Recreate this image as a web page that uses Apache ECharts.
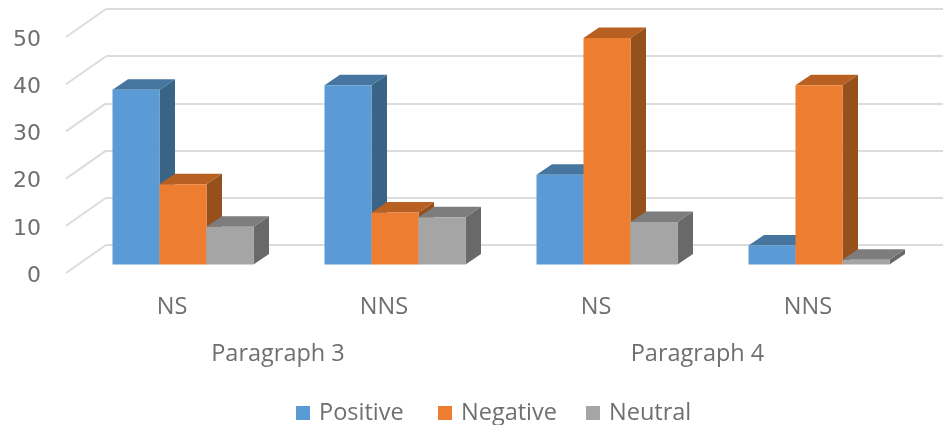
<!DOCTYPE html>
<html>
<head>
<meta charset="utf-8">
<style>html,body{margin:0;padding:0;background:#fff}#chart{width:943px;height:425px}</style>
<script src="https://cdn.jsdelivr.net/npm/echarts@6/dist/echarts.min.js"></script>
</head>
<body>
<div id="chart"></div>
<script>
const subCategories = ['NS', 'NNS', 'NS', 'NNS'];
const paragraphs = ['Paragraph 3', 'Paragraph 4'];
const yTicks = [0, 10, 20, 30, 40, 50];
const positive = [37, 38, 19, 4];
const negative = [17, 11, 48, 38];
const neutral = [8, 10, 9, 1];
const legendNames = ['Positive', 'Negative', 'Neutral'];
const legendLefts = [291, 433, 581];

const FONT = '"Open Sans", sans-serif';
const TEXT = '#6f6f6f';
const GRID_LINE = '#dcdcdc';

// Three parallel planes of the 3D box: front edge, bar fronts, back wall.
const PLANE_LEFT = 66, PLANE_WIDTH = 848, PLANE_HEIGHT = 236;
const FRONT_TOP = 37;
const plane = (dx, dy) => ({
  left: PLANE_LEFT + dx, top: FRONT_TOP + dy,
  width: PLANE_WIDTH, height: PLANE_HEIGHT
});

const BAR_W = 47, DEPTH_X = 15.5, DEPTH_Y = -10.5;
const WALL_X = 40, WALL_Y = -28;

const box3d = (offset, faces) => (params, api) => {
  const val = api.value(1);
  const [cx, top] = api.coord([api.value(0), val]);
  const [, base] = api.coord([api.value(0), 0]);
  const l = cx + offset * BAR_W - BAR_W / 2, r = l + BAR_W;
  const poly = (points, fill) => ({ type: 'polygon', shape: { points }, style: { fill } });
  return {
    type: 'group',
    children: [
      poly([[r, top], [r + DEPTH_X, top + DEPTH_Y], [r + DEPTH_X, base + DEPTH_Y], [r, base]], faces.side),
      poly([[l, top], [l + DEPTH_X, top + DEPTH_Y], [r + DEPTH_X, top + DEPTH_Y], [r, top]], faces.top),
      { type: 'rect', shape: { x: l, y: top, width: BAR_W, height: base - top }, style: { fill: faces.front } }
    ]
  };
};

const barSeries = (name, values, offset, faces) => ({
  name,
  type: 'custom',
  xAxisIndex: 2,
  yAxisIndex: 1,
  z: 3,
  itemStyle: { color: faces.front },
  encode: { x: 0, y: 1 },
  data: values.map((v, i) => [i, v]),
  renderItem: box3d(offset, faces)
});

// Floor-to-wall slanted gridline segments on the left side.
const slantSeries = {
  type: 'custom',
  xAxisIndex: 0,
  yAxisIndex: 0,
  z: 1,
  silent: true,
  encode: { y: 0 },
  data: yTicks.map(t => [t]),
  renderItem: (params, api) => {
    const x = params.coordSys.x;
    const y = api.coord([0, api.value(0)])[1];
    return {
      type: 'line',
      shape: { x1: x, y1: y, x2: x + WALL_X, y2: y + WALL_Y },
      style: { stroke: GRID_LINE, lineWidth: 2 }
    };
  }
};

const hiddenCat = gridIndex => ({ type: 'category', gridIndex, data: subCategories, show: false });
const valueAxis = (gridIndex, extra) => Object.assign({
  type: 'value', gridIndex, min: 0, max: 50, interval: 10,
  axisLine: { show: false }, axisTick: { show: false },
  axisLabel: { show: false }, splitLine: { show: false }
}, extra);

const chart = echarts.init(document.getElementById('chart'), null, { renderer: 'canvas' });
chart.setOption({
  backgroundColor: '#fff',
  animation: false,
  textStyle: { fontFamily: FONT },
  grid: [plane(0, 0), plane(11, -8.5), plane(WALL_X, WALL_Y), plane(0, 3)],
  xAxis: [
    {
      type: 'category', gridIndex: 0, data: subCategories, position: 'bottom',
      axisLine: { show: false }, axisTick: { show: false },
      axisLabel: { color: TEXT, fontSize: 23.5, fontFamily: FONT, margin: 22, interval: 0 }
    },
    {
      type: 'category', gridIndex: 0, position: 'bottom',
      // The right-hand group label sits a little left of its band's centre.
      data: paragraphs.map((value, i) => i === 1 ? { value, textStyle: { padding: [0, 9, 0, 0] } } : value),
      axisLine: { show: false }, axisTick: { show: false },
      axisLabel: { color: TEXT, fontSize: 23.5, fontFamily: FONT, margin: 69, interval: 0 }
    },
    hiddenCat(1),
    hiddenCat(2),
    hiddenCat(3)
  ],
  yAxis: [
    valueAxis(0),
    valueAxis(1),
    valueAxis(2, {
      splitLine: { show: true, lineStyle: { color: GRID_LINE, width: 2 } }
    }),
    // Tick numbers sit just under the front ends of the slanted gridlines.
    valueAxis(3, {
      axisLabel: {
        show: true, color: TEXT, fontSize: 22, fontFamily: '"DejaVu Sans", sans-serif',
        margin: 25, padding: [10, 0, 0, 0]
      }
    })
  ],
  legend: legendNames.map((name, i) => ({
    data: [name],
    left: legendLefts[i], top: 396,
    icon: 'rect', itemWidth: 14, itemHeight: 14,
    textStyle: { color: TEXT, fontSize: 23.5, fontFamily: FONT, padding: [0, 0, 0, 4] }
  })),
  series: [
    slantSeries,
    barSeries('Positive', positive, -1, { front: '#5b9bd5', top: '#4675a0', side: '#3a6486' }),
    barSeries('Negative', negative, 0, { front: '#ed7d31', top: '#b85f22', side: '#95501c' }),
    barSeries('Neutral', neutral, 1, { front: '#a5a5a5', top: '#7d7d7d', side: '#696969' })
  ]
});
</script>
</body>
</html>
